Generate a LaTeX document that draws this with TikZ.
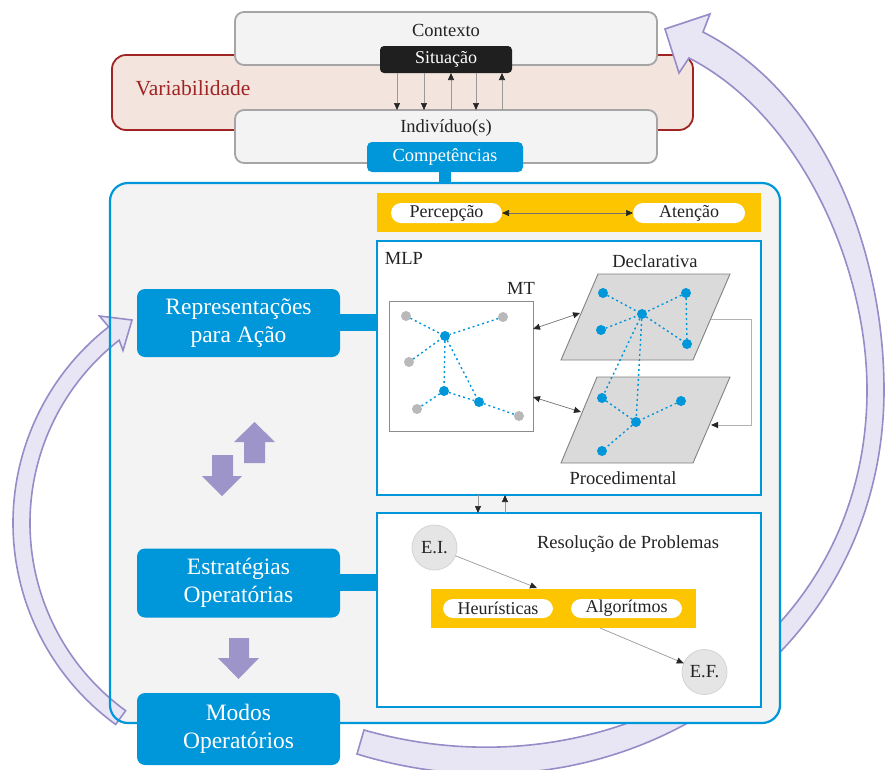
\documentclass[tikz,border=0pt]{standalone}
\usepackage{fontspec}
\setmainfont{Liberation Serif}
\usetikzlibrary{arrows.meta,calc}

\definecolor{cblue}{RGB}{0,150,218}
\definecolor{cyellow}{RGB}{253,196,0}
\definecolor{boxgray}{RGB}{165,165,165}
\definecolor{boxfill}{RGB}{243,243,243}
\definecolor{varred}{RGB}{160,36,36}
\definecolor{varfill}{RGB}{243,229,222}
\definecolor{lavfill}{RGB}{232,230,244}
\definecolor{lavline}{RGB}{150,140,200}
\definecolor{blockpurple}{RGB}{157,149,202}
\definecolor{planefill}{RGB}{218,218,218}
\definecolor{planeline}{RGB}{130,130,130}
\definecolor{dotgray}{RGB}{185,185,185}
\definecolor{circfill}{RGB}{229,229,229}
\definecolor{circline}{RGB}{212,212,212}
\definecolor{txt}{RGB}{35,35,35}

\newcommand{\setfs}[1]{\fontsize{#1}{#1}\selectfont}

\tikzset{
  every node/.style={inner sep=0pt, outer sep=0pt},
  graybox/.style={draw=boxgray, line width=1.8pt, fill=boxfill, rounded corners=9pt},
  varbox/.style={draw=varred, line width=1.8pt, fill=varfill, rounded corners=14pt},
  blackbox/.style={fill=black!88, rounded corners=4pt, text=white, font=\setfs{18}},
  compbox/.style={fill=cblue, rounded corners=5pt, text=white, font=\setfs{18.5}},
  bluebox/.style={fill=cblue, rounded corners=8pt, text=white, align=center,
    font=\fontsize{23.5}{28}\selectfont},
  panel/.style={draw=cblue, line width=2.6pt, fill=white},
  ybar/.style={fill=cyellow},
  pill/.style={fill=white, rounded corners=10pt, text=txt, font=\setfs{18}},
  lbl/.style={text=txt, font=\setfs{18.5}},
  mtbox/.style={draw=black!45, line width=1pt, fill=white},
  plane/.style={draw=planeline, line width=0.9pt, fill=planefill},
  bdot/.style={circle, fill=cblue, minimum size=10pt},
  gdot/.style={circle, fill=dotgray, minimum size=10pt},
  net/.style={cblue, line width=1.4pt, dash pattern=on 2pt off 3pt},
  state/.style={circle, fill=circfill, draw=circline, line width=0.8pt,
    minimum size=45pt, text=txt, font=\setfs{18.5}},
  conn/.style={draw=black!40, line width=0.7pt,
    -{Triangle[length=7pt,width=6pt,color=black!85]}},
  dconn/.style={draw=black!55, line width=0.7pt,
    {Triangle[length=7pt,width=6pt,color=black!85]}-{Triangle[length=7pt,width=6pt,color=black!85]}},
  bigarrow/.style={fill=lavfill, draw=lavline, line width=1.6pt, line join=miter},
  blockarrow/.style={fill=blockpurple},
}

\begin{document}
\begin{tikzpicture}[x=1pt,y=-1pt]
\useasboundingbox (0,0) rectangle (886,769);

% ---------- context / individual band ----------
\node[varbox, minimum width=581pt, minimum height=75pt] (var) at (402.5,92.5) {};
\node[text=varred, font=\setfs{21.5}] (varlbl) at (193,88) {Variabilidade};
\node[graybox, minimum width=422pt, minimum height=53pt] (ctx) at (446,38.5) {};
\node[lbl] (ctxlbl) at (446,30) {Contexto};
\node[graybox, minimum width=422pt, minimum height=53pt] (ind) at (446,136.5) {};
\node[lbl] (indlbl) at (446,128) {Indivíduo(s)};
\node[blackbox, minimum width=132pt, minimum height=27pt] (sit) at (446,59.5) {Situação};
\node[compbox, minimum width=156pt, minimum height=30pt] (comp) at (445,157) {Competências};

% exchanges between situation and individual
\foreach \dx in {-49,-22,30}
  \draw[conn] ([xshift=\dx pt]sit.south) -- ([xshift=\dx pt]ind.north);
\foreach \dx in {5,56}
  \draw[conn] ([xshift=\dx pt]ind.north) -- ([xshift=\dx pt]sit.south);

% ---------- large return arrow on the right ----------
\draw[bigarrow]
  (357,754) .. controls (620,835) and (884,660) .. (884,390)
            .. controls (884,255) and (828,96) .. (703,32)
  -- (710,14) -- (665,29) -- (679,73) -- (689,58)
            .. controls (800,115) and (867,265) .. (867,390)
            .. controls (867,650) and (610,800) .. (364,730) -- cycle;

% ---------- main container ----------
\node[fill=boxfill, rounded corners=18pt, minimum width=670pt, minimum height=540pt] (cont) at (445,453) {};
\draw[cblue, line width=12pt] (comp.south) -- (comp.south |- cont.north);

% large return arrow on the left
\coordinate (lc) at (262,523);
\draw[bigarrow]
  ($(lc)+(126:249)$) arc[start angle=126, end angle=232, radius=249]
  -- (99.5,316) -- (132,320) -- (123,350.5)
  -- ($(lc)+(232:232)$) arc[start angle=232, end angle=126, radius=232] -- cycle;

\draw[cblue, line width=2.2pt, rounded corners=18pt] (cont.north west) rectangle (cont.south east);

% ---------- perception / attention ----------
\node[ybar, minimum width=384pt, minimum height=39pt] (ytop) at (569,212.5) {};
\node[pill, minimum width=111pt, minimum height=20pt] (perc) at (446.5,213) {Percepção};
\node[pill, minimum width=112pt, minimum height=20pt] (aten) at (689,213) {Atenção};
\draw[dconn] (perc) -- (aten);

% ---------- long-term memory ----------
\node[panel, minimum width=384pt, minimum height=254pt] (mlp) at (569,368) {};
\node[lbl] (mlplbl) at (404,258) {MLP};
\node[mtbox, minimum width=144pt, minimum height=130pt] (mt) at (461,366) {};
\node[lbl] (mtlbl) at (521,288) {MT};

\draw[plane] (598,274) -- (730,274) -- (693,360) -- (561,360) -- cycle;
\draw[plane] (597,377) -- (730,377) -- (693,463) -- (561,463) -- cycle;
\node[lbl] (decllbl) at (655,261) {Declarativa};
\node[lbl] (proclbl) at (623,478) {Procedimental};

\coordinate (declin) at (580,313);
\coordinate (procin) at (581,412);
\coordinate (declR) at (711,319);
\coordinate (procR) at (711,425);
\draw[dconn] ([yshift=37pt]mt.east) -- (declin);
\draw[dconn] ([yshift=-31pt]mt.east) -- (procin);
\draw[draw=black!30, line width=0.8pt, -{Triangle[length=7pt,width=6pt,color=black!85]}]
  (declR) -- (751,319) -- (751,425) -- (procR);

% working-memory network
\node[bdot] (m1) at (445,336) {};
\node[bdot] (m2) at (444,391) {};
\node[bdot] (m3) at (479,402) {};
\node[gdot] (g1) at (406,316) {};
\node[gdot] (g2) at (503,317) {};
\node[gdot] (g3) at (409,362) {};
\node[gdot] (g4) at (417,409) {};
\node[gdot] (g5) at (519,416) {};
\foreach \a/\b in {g1/m1,g2/m1,g3/m1,m1/m2,m1/m3,m2/g4,m2/m3,m3/g5}
  \draw[net] (\a) -- (\b);

% declarative network
\node[bdot] (d1) at (603,293) {};
\node[bdot] (d2) at (686,293) {};
\node[bdot] (dc) at (642,314) {};
\node[bdot] (d3) at (601,330) {};
\node[bdot] (d4) at (687,344) {};
% procedural network
\node[bdot] (p1) at (602,398) {};
\node[bdot] (p2) at (681,401) {};
\node[bdot] (pc) at (636,422) {};
\node[bdot] (p3) at (602,451) {};
\foreach \a/\b in {d1/dc,d2/dc,d3/dc,dc/d4,d2/d4,p1/pc,p2/pc,pc/p3,dc/p1,dc/pc}
  \draw[net] (\a) -- (\b);

% ---------- problem solving ----------
\node[panel, minimum width=384pt, minimum height=194pt] (res) at (569,610) {};
\draw[conn] ([xshift=-91pt]mlp.south) -- ([xshift=-91pt]res.north);
\draw[conn] ([xshift=-64pt]res.north) -- ([xshift=-64pt]mlp.south);

\node[lbl] (reslbl) at (628,544) {Resolução de Problemas};
\node[state] (ei) at (434.5,547.5) {E.I.};
\node[state] (ef) at (704.5,672) {E.F.};
\node[ybar, minimum width=265pt, minimum height=39pt] (ylow) at (563.5,608.5) {};
\node[pill, minimum width=110pt, minimum height=19pt] (heur) at (498,608.5) {Heurísticas};
\node[pill, minimum width=111pt, minimum height=19pt] (algo) at (626.5,608.5) {Algorítmos};
\coordinate (yin) at (537,588);
\coordinate (yout) at (600,628);
\draw[conn] (ei) -- (yin);
\draw[conn] (yout) -- (ef);

% ---------- stages on the left ----------
\node[bluebox, minimum width=203pt, minimum height=68pt] (rep) at (238.5,323) {Representações\\para Ação};
\node[bluebox, minimum width=203pt, minimum height=69pt] (est) at (238.5,583) {Estratégias\\Operatórias};
\node[bluebox, minimum width=203pt, minimum height=72pt] (modos) at (238.5,729) {Modos\\Operatórios};
\draw[cblue, line width=17pt] ([yshift=1pt]rep.east) -- ([yshift=1pt]rep.east -| mlp.west);
\draw[cblue, line width=17pt] ([yshift=1pt]est.east) -- ([yshift=1pt]est.east -| res.west);

% block arrows between the stages
\fill[blockarrow] (244,463) -- (244,442) -- (234,442) -- (254.5,422) -- (275,442) -- (265,442) -- (265,463) -- cycle;
\fill[blockarrow] (212,455) -- (233,455) -- (233,476) -- (242,476) -- (222,496) -- (202,476) -- (212,476) -- cycle;
\fill[blockarrow] (229,638) -- (249,638) -- (249,658) -- (259,658) -- (238.5,679) -- (218,658) -- (229,658) -- cycle;

\end{tikzpicture}
\end{document}
